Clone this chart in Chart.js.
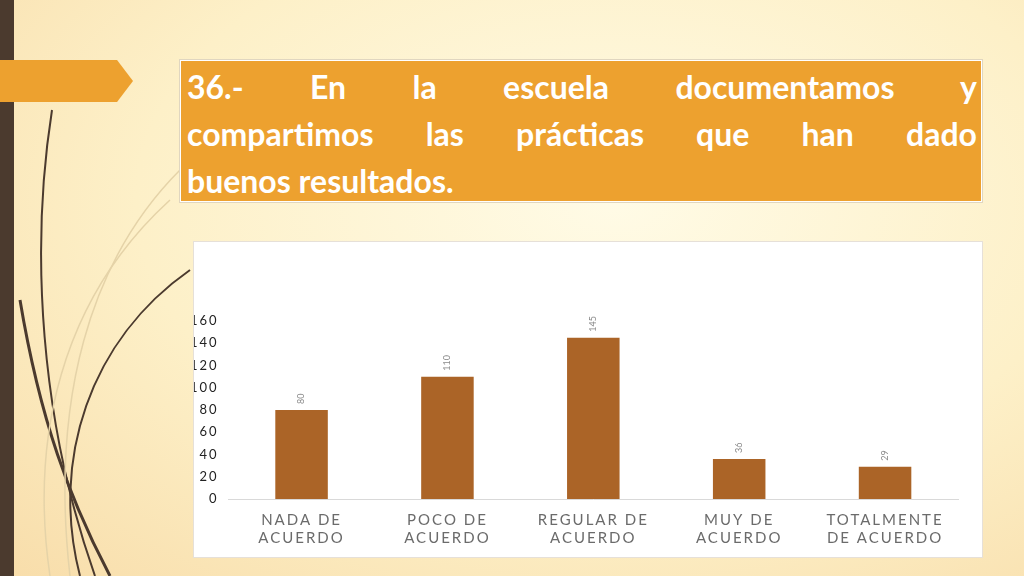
<!DOCTYPE html>
<html><head><meta charset="utf-8">
<script src="https://cdn.jsdelivr.net/npm/chart.js@4"></script>
<style>
body{margin:0;width:1024px;height:576px;overflow:hidden;position:relative;
 background:radial-gradient(ellipse at 60% 35%,#fffbe6 0%,#fdf0c8 55%,#f8ddaa 100%);font-family:Lato,sans-serif}
#stripe{position:absolute;left:0;top:0;width:14px;height:576px;background:#4b3a2e}
#arrow{position:absolute;left:0;top:60px;width:133px;height:42px;background:#eda12f;clip-path:polygon(0 0,88% 0,100% 50%,88% 100%,0 100%)}
#title{position:absolute;left:180px;top:60px;width:790px;height:128px;padding:2px 4px 10px 6px;background:#eda12f;color:#fff;
 font-weight:bold;font-size:32px;line-height:47px;border:1px solid #fff;box-shadow:0 0 0 1px #e0d6c0}
#title span{display:block;text-align:justify;text-align-last:justify}
#title span.last{text-align-last:left}
#box{position:absolute;left:193px;top:241px;width:788px;height:315px;background:#fff;border:1px solid #e6e0d8}
svg{position:absolute;left:0;top:0}
</style></head><body>
<svg width="1024" height="576"><g fill="none" stroke="#4b3a2e" stroke-width="2">
<path d="M52 110 C30 250 40 420 95 576"/><path d="M190 270 C90 340 50 460 80 576"/>
<path d="M20 300 C40 420 70 500 110 576" stroke-width="3"/></g>
<g fill="none" stroke="#e5d3a8" stroke-width="1.5"><path d="M180 170 C90 260 50 400 70 576"/><path d="M170 200 C60 300 30 440 50 576"/></g></svg>
<div id="stripe"></div><div id="arrow"></div>
<div id="title"><span>36.- En la escuela documentamos y</span><span>compartimos las prácticas que han dado</span><span class="last">buenos resultados.</span></div>
<div id="box"><canvas id="c" width="788" height="315"></canvas></div>
<script>
const categories = [["NADA DE","ACUERDO"],["POCO DE","ACUERDO"],["REGULAR DE","ACUERDO"],["MUY DE","ACUERDO"],["TOTALMENTE","DE ACUERDO"]];
const values = [80, 110, 145, 36, 29];
const yTicks = [0, 20, 40, 60, 80, 100, 120, 140, 160];

const valueLabels = {
  id: "valueLabels",
  afterDatasetsDraw(chart) {
    const ctx = chart.ctx;
    chart.getDatasetMeta(0).data.forEach((bar, i) => {
      ctx.save();
      ctx.translate(bar.x, bar.y - 6);
      ctx.rotate(-Math.PI / 2);
      ctx.letterSpacing = "0px";
      ctx.font = "9px Lato";
      ctx.fillStyle = "#8a8a8a";
      ctx.textAlign = "left";
      ctx.textBaseline = "middle";
      ctx.fillText(String(values[i]), 0, 0);
      ctx.restore();
    });
  }
};
const spacing = {
  id: "spacing",
  beforeDraw(chart) { chart.ctx.letterSpacing = "2px"; },
  afterDraw(chart) { chart.ctx.letterSpacing = "0px"; }
};

new Chart(document.getElementById("c"), {
  type: "bar",
  data: { labels: categories, datasets: [{ data: values, backgroundColor: "#ab6427", barPercentage: 0.36, categoryPercentage: 1 }] },
  options: {
    responsive: false, animation: false,
    layout: { padding: { left: 0, right: 24, top: 79, bottom: 6 } },
    plugins: { legend: { display: false }, tooltip: { enabled: false } },
    scales: {
      x: { grid: { display: false }, border: { color: "#d9d9d9" },
           ticks: { color: "#6b6b6b", font: { size: 15, family: "Lato" }, maxRotation: 0, padding: 4 } },
      y: { min: 0, max: 160, afterBuildTicks: s => { s.ticks = yTicks.map(v => ({ value: v })); },
           grid: { display: false }, border: { display: false },
           ticks: { color: "#222", font: { size: 13, family: "Lato" }, padding: 2 } }
    }
  },
  plugins: [valueLabels, spacing]
});
</script></body></html>
